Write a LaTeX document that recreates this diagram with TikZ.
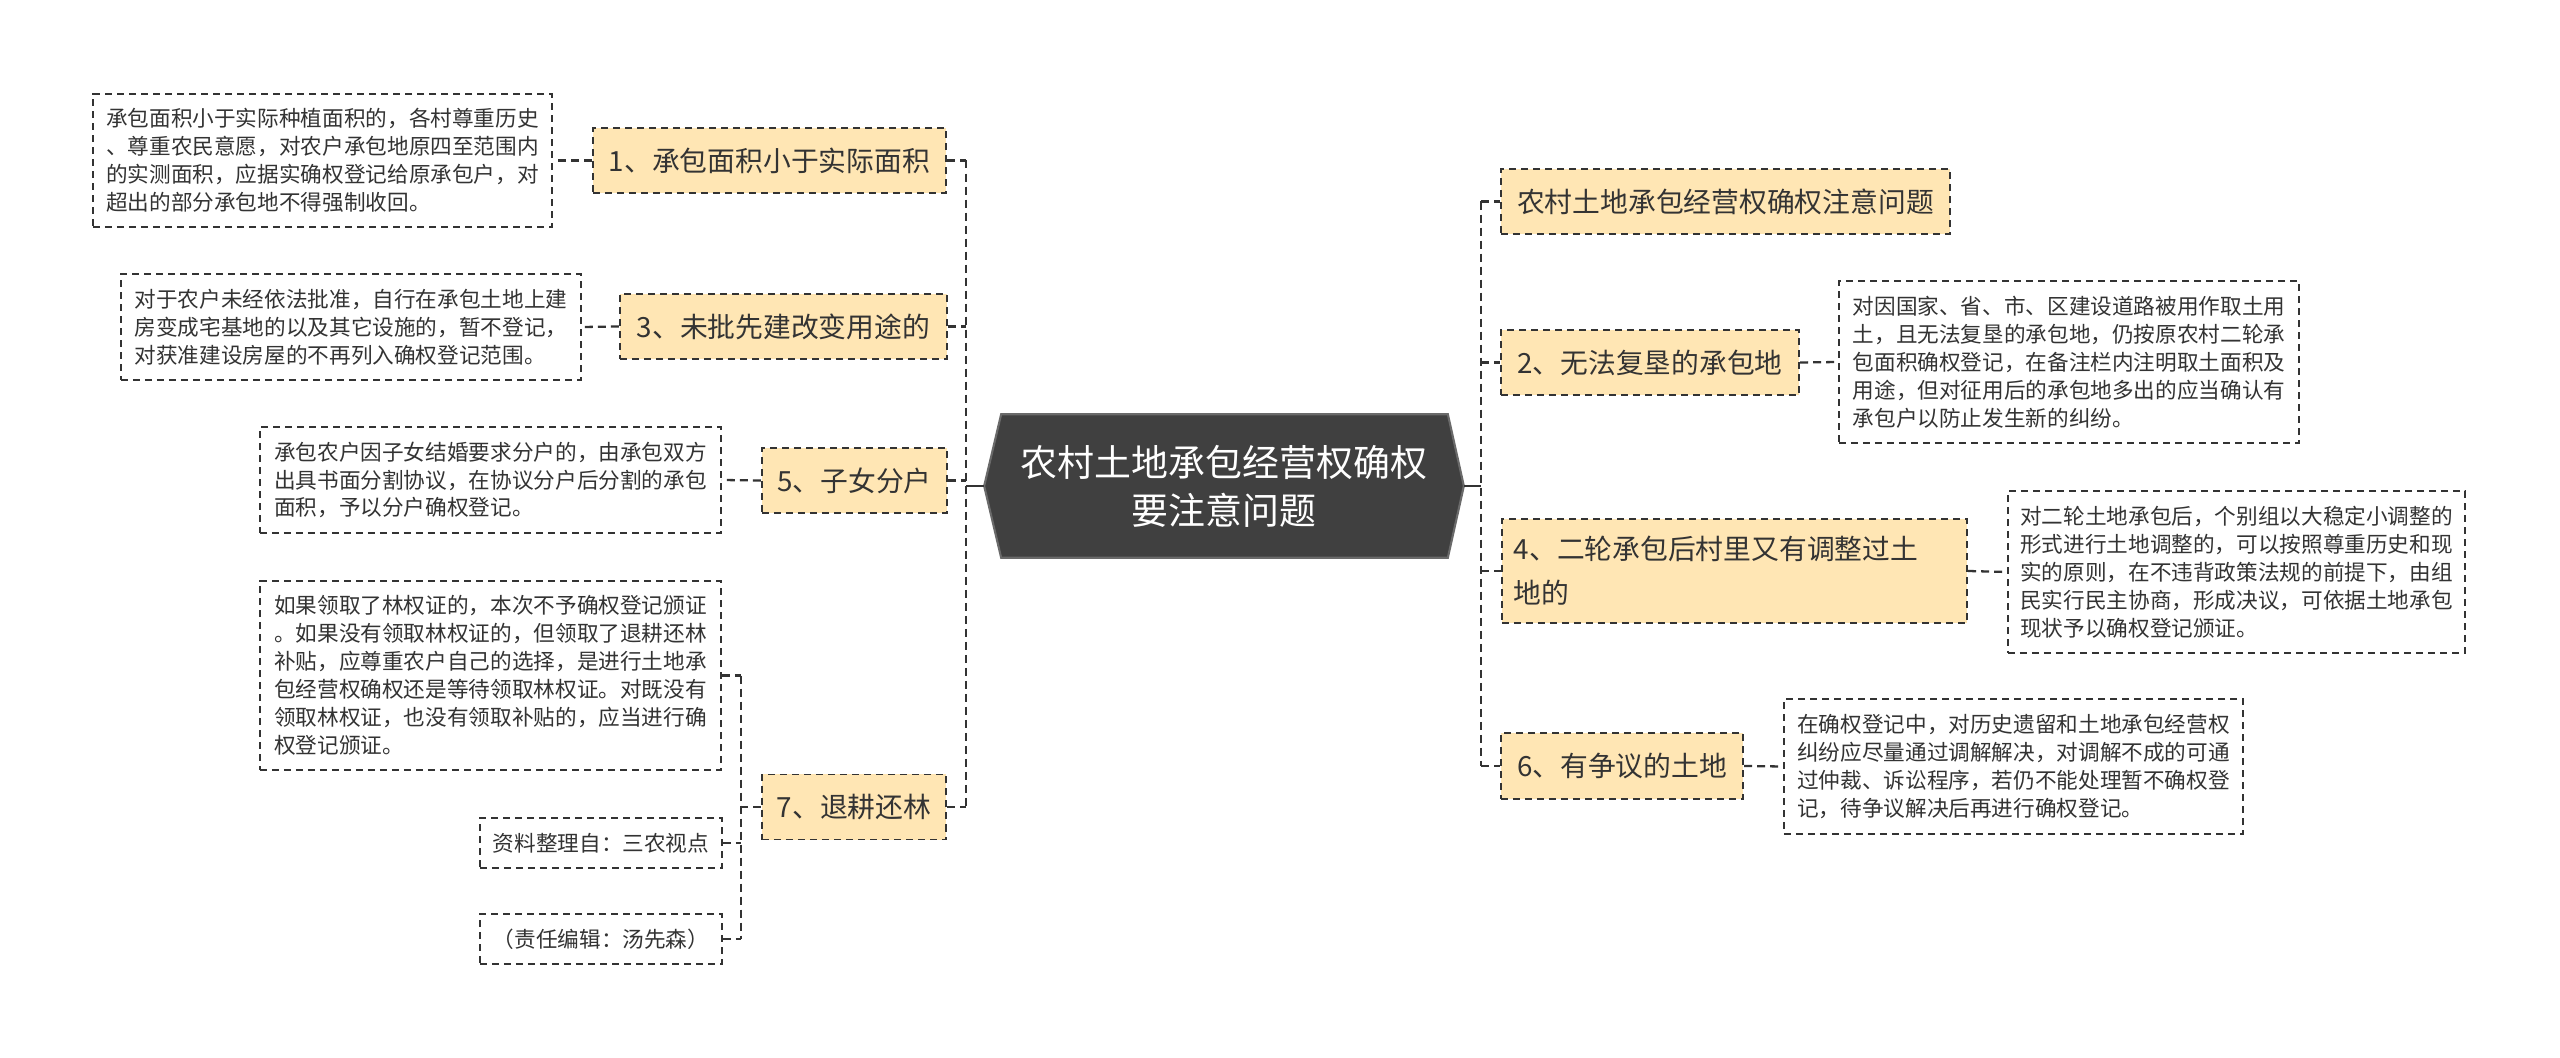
\documentclass[tikz,border=0pt]{standalone}
\usepackage{fontspec}
\setmainfont{Noto Sans CJK SC}
\usepackage{tikz}
\usetikzlibrary{calc,backgrounds}
\usepackage{xcolor}
\definecolor{hubfill}{HTML}{404040}
\definecolor{hubline}{HTML}{6A6A6A}
\definecolor{branchfill}{HTML}{FFE6B4}
\definecolor{inkgray}{HTML}{333333}

\begin{document}
\begin{tikzpicture}[x=0.01cm,y=-0.01cm,
    leaf/.style={draw=inkgray,line width=0.45pt,dash pattern=on 0.07cm off 0.05cm,fill=white,
        text=inkgray,align=left,inner xsep=0.1cm,inner ysep=0pt,
        font=\fontsize{6.15pt}{7.95pt}\selectfont},
    branch/.style={draw=inkgray,line width=0.55pt,dash pattern=on 0.07cm off 0.05cm,fill=branchfill,
        text=inkgray,minimum height=0.65cm,inner xsep=0.12cm,
        font=\fontsize{7.9pt}{10pt}\selectfont},
    link/.style={draw=inkgray,line width=0.65pt,dash pattern=on 0.08cm off 0.05cm},
    solidlink/.style={draw=inkgray,line width=0.65pt}]

    % 中心主题
    \node[text=white,align=center,minimum width=4.78cm,minimum height=1.42cm,
        font=\fontsize{10.5pt}{13.6pt}\selectfont] (hub) at (1224,486)
        {农村土地承包经营权确权\\要注意问题};
    \begin{scope}[on background layer]
        \fill[white] (0,0) rectangle (2560,1058);
        \filldraw[fill=hubfill,draw=hubline,line width=0.6pt]
            (hub.west) -- ($(hub.north west)+(17,0)$) -- ($(hub.north east)+(-16,0)$) -- (hub.east)
            -- ($(hub.south east)+(-16,0)$) -- ($(hub.south west)+(17,0)$) -- cycle;
    \end{scope}

    % 左侧分支
    \node[branch,minimum width=3.53cm] (b1) at (769.5,160.5) {1、承包面积小于实际面积};
    \node[branch,minimum width=3.27cm] (b3) at (783.5,326.5) {3、未批先建改变用途的};
    \node[branch,minimum width=1.85cm] (b5) at (854.5,480.5) {5、子女分户};
    \node[branch,minimum width=1.84cm] (b7) at (854,807) {7、退耕还林};

    % 左侧说明
    \node[leaf,minimum width=4.59cm,minimum height=1.33cm] (l1) at (322.5,160.5)
        {承包面积小于实际种植面积的，各村尊重历史\\、尊重农民意愿，对农户承包地原四至范围内\\的实测面积，应据实确权登记给原承包户，对\\超出的部分承包地不得强制收回。};
    \node[leaf,minimum width=4.6cm,minimum height=1.06cm] (l3) at (351,327)
        {对于农户未经依法批准，自行在承包土地上建\\房变成宅基地的以及其它设施的，暂不登记，\\对获准建设房屋的不再列入确权登记范围。};
    \node[leaf,minimum width=4.61cm,minimum height=1.06cm] (l5) at (490.5,480)
        {承包农户因子女结婚要求分户的，由承包双方\\出具书面分割协议，在协议分户后分割的承包\\面积，予以分户确权登记。};
    \node[leaf,minimum width=4.61cm,minimum height=1.89cm] (l7a) at (490.5,675.5)
        {如果领取了林权证的，本次不予确权登记颁证\\。如果没有领取林权证的，但领取了退耕还林\\补贴，应尊重农户自己的选择，是进行土地承\\包经营权确权还是等待领取林权证。对既没有\\领取林权证，也没有领取补贴的，应当进行确\\权登记颁证。};
    \node[leaf,align=center,minimum width=2.42cm,minimum height=0.5cm] (l7b) at (601,843) {资料整理自：三农视点};
    \node[leaf,align=center,minimum width=2.42cm,minimum height=0.5cm] (l7c) at (601,939) {（责任编辑：汤先森）};

    % 右侧分支
    \node[branch,minimum width=4.49cm] (r0) at (1725.5,201.5) {农村土地承包经营权确权注意问题};
    \node[branch,minimum width=2.98cm] (r2) at (1650,362.5) {2、无法复垦的承包地};
    \node[branch,text width=4.41cm,align=left,minimum height=1.04cm,
        font=\fontsize{7.9pt}{12.5pt}\selectfont] (r4) at (1734.5,571) {4、二轮承包后村里又有调整过土\\地的};
    \node[branch,minimum width=2.42cm,minimum height=0.66cm] (r6) at (1622,766) {6、有争议的土地};

    % 右侧说明
    \node[leaf,minimum width=4.6cm,minimum height=1.62cm] (lr2) at (2069,362)
        {对因国家、省、市、区建设道路被用作取土用\\土，且无法复垦的承包地，仍按原农村二轮承\\包面积确权登记，在备注栏内注明取土面积及\\用途，但对征用后的承包地多出的应当确认有\\承包户以防止发生新的纠纷。};
    \node[leaf,minimum width=4.57cm,minimum height=1.62cm] (lr4) at (2236.5,572)
        {对二轮土地承包后，个别组以大稳定小调整的\\形式进行土地调整的，可以按照尊重历史和现\\实的原则，在不违背政策法规的前提下，由组\\民实行民主协商，形成决议，可依据土地承包\\现状予以确权登记颁证。};
    \node[leaf,minimum width=4.59cm,minimum height=1.35cm] (lr6) at (2013.5,766.5)
        {在确权登记中，对历史遗留和土地承包经营权\\纠纷应尽量通过调解解决，对调解不成的可通\\过仲裁、诉讼程序，若仍不能处理暂不确权登\\记，待争议解决后再进行确权登记。};

    % 连线：左侧
    \coordinate (lt) at (966,486);
    \draw[solidlink] (hub.west) -- (lt);
    \draw[link] (lt |- b1.east) -- (lt |- b7.east);
    \foreach \b in {b1,b3,b5,b7} \draw[link] (\b.east) -- (lt |- \b.east);
    \draw[link] (b1.west) -- (l1.east);
    \draw[link] (b3.west) -- (l3.east);
    \draw[link] (b5.west) -- (l5.east);
    \coordinate (st) at (741,807);
    \draw[link] (b7.west) -- (st);
    \draw[link] (st |- l7a.east) -- (st |- l7c.east);
    \foreach \l in {l7a,l7b,l7c} \draw[link] (\l.east) -- (st |- \l.east);

    % 连线：右侧
    \coordinate (rt) at (1481,486);
    \draw[solidlink] (hub.east) -- (rt);
    \draw[link] (rt |- r0.west) -- (rt |- r6.west);
    \foreach \r in {r0,r2,r4,r6} \draw[link] (rt |- \r.west) -- (\r.west);
    \draw[link] (r2.east) -- (lr2.west);
    \draw[link] (r4.east) -- (lr4.west);
    \draw[link] (r6.east) -- (lr6.west);

    \useasboundingbox (0,0) rectangle (2560,1058);
\end{tikzpicture}
\end{document}
